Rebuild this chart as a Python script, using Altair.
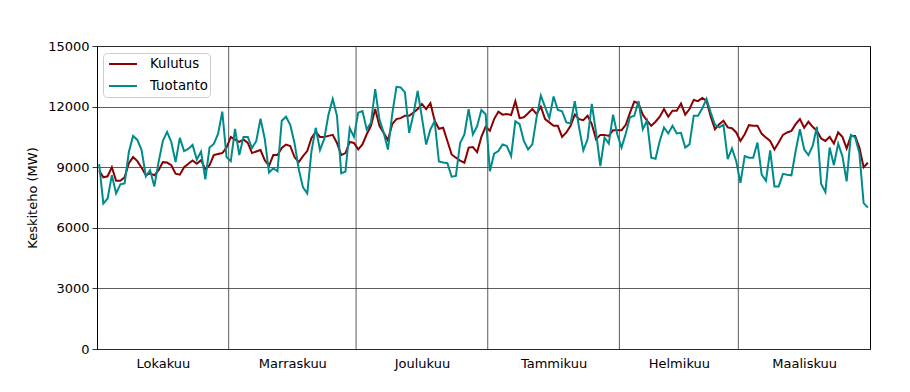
import altair as alt
import pandas as pd

months = ["Lokakuu", "Marraskuu", "Joulukuu", "Tammikuu", "Helmikuu", "Maaliskuu"]
month_days = [31, 30, 31, 31, 28, 31]

kulutus_oct = [8830, 8500, 8550, 9000, 8330, 8330, 8500, 9200, 9500, 9300, 8970, 8600, 8700, 8600, 8850,
               9250, 9230, 9100, 8680, 8630, 9000, 9170, 9330, 9170, 9350, 8900, 9100, 9600, 9650, 9700, 9970]
kulutus_nov = [10500, 10370, 10250, 10370, 10200, 9700, 9780, 9850, 9350, 9070, 9600, 9600, 9950, 10120, 10050,
               9500, 9250, 9550, 9800, 10450, 10750, 10500, 10500, 10550, 10600, 10200, 9600, 9700, 10250, 10200]
kulutus_dec = [9880, 10130, 10630, 11050, 11880, 11050, 10700, 10330, 11130, 11380, 11430, 11550, 11550, 11700,
               11880, 12130, 11880, 12170, 11300, 10900, 10950, 10300, 9630, 9470, 9330, 9220, 9970, 10000, 9750,
               10500, 11000]
kulutus_jan = [10800, 11380, 11750, 11600, 11630, 11580, 12270, 11430, 11470, 11670, 11880, 11630, 12000, 11380,
               11220, 11050, 11050, 10500, 10720, 11050, 11600, 11380, 11330, 11550, 11130, 10380, 10600, 10600,
               10550, 10830, 10830]
kulutus_feb = [10830, 11100, 11700, 12250, 12150, 11600, 11300, 11050, 11250, 11500, 11880, 11500, 11800, 11800,
               12150, 11600, 11880, 12330, 12270, 12430, 12300, 11500, 10880, 11130, 11300, 10970, 10930, 10720]
kulutus_mar = [10300, 10630, 11080, 11050, 11050, 10650, 10470, 10300, 9880, 10220, 10600, 10720, 10800, 11130,
               11380, 10950, 11250, 11000, 10800, 10420, 10300, 10500, 10170, 10720, 10500, 9930, 10550, 10550,
               9970, 9000, 9220]

tuotanto_oct = [9150, 7200, 7450, 8600, 7700, 8150, 8200, 9750, 10550, 10350, 9850, 8550, 8850, 8050, 9250, 10300,
                10750, 10250, 9250, 10450, 9800, 9900, 10100, 9380, 9770, 8400, 9970, 10150, 10650, 11750, 9500]
tuotanto_nov = [9300, 10900, 9600, 10500, 10500, 9950, 10300, 11400, 10400, 8730, 8950, 8800, 11300, 11500, 11100,
                10200, 8900, 8000, 7700, 9800, 10950, 9850, 10400, 11600, 12380, 11550, 8700, 8780, 10930, 10500]
tuotanto_dec = [11700, 11780, 10870, 11200, 12870, 11370, 10700, 9870, 11620, 12980, 12950, 12700, 10700, 11620,
                12780, 11450, 10120, 10870, 11280, 9280, 9230, 9200, 8530, 8570, 10200, 10620, 11870, 10620, 11030,
                11830, 11620]
tuotanto_jan = [8800, 9670, 9800, 10130, 10050, 9550, 11270, 11130, 10300, 9880, 10130, 11470, 12550, 11970, 11430,
                12500, 11830, 11770, 11220, 11170, 12270, 10970, 9830, 10380, 12130, 10720, 9050, 10470, 10170,
                11600, 10630]
tuotanto_feb = [9970, 10670, 11470, 11550, 12270, 10880, 11300, 9470, 9420, 10300, 10970, 10670, 11050, 10670,
                10700, 9970, 10130, 11550, 11550, 11900, 12380, 11700, 11100, 10970, 11100, 9400, 9930, 9300]
tuotanto_mar = [8220, 9550, 9470, 9470, 10220, 8630, 8330, 9830, 8050, 8050, 8670, 8630, 8600, 9800, 10880, 9880,
                9600, 10050, 11000, 8170, 7770, 9970, 9100, 10170, 9550, 8300, 10600, 10470, 9700, 7220, 7000]

y_ticks = [0, 3000, 6000, 9000, 12000, 15000]

kulutus = kulutus_oct + kulutus_nov + kulutus_dec + kulutus_jan + kulutus_feb + kulutus_mar
tuotanto = tuotanto_oct + tuotanto_nov + tuotanto_dec + tuotanto_jan + tuotanto_feb + tuotanto_mar

rows = []
for i, v in enumerate(kulutus):
    rows.append({"x": i + 0.5, "series": "Kulutus", "value": v})
for i, v in enumerate(tuotanto):
    rows.append({"x": i + 0.5, "series": "Tuotanto", "value": v})
df = pd.DataFrame(rows)

bounds = []
mids = []
acc = 0
for d in month_days:
    mids.append(acc + d / 2)
    acc += d
    bounds.append(acc)
total = acc
bounds_df = pd.DataFrame({"b": bounds[:-1]})

# label expression: map month midpoints to month names by range
expr = "''"
for b, name in reversed(list(zip(bounds, months))):
    expr = f"datum.value < {b} ? '{name}' : ({expr})"

xscale = alt.Scale(domain=[0, total], nice=False, zero=False)
xaxis = alt.Axis(values=mids, labelExpr=expr, grid=False, ticks=False, domain=False,
                 labelPadding=8, labelFontSize=13, labelColor="black", title=None,
                 labelOverlap=False)

lines = alt.Chart(df).mark_line(strokeWidth=2).encode(
    x=alt.X("x:Q", scale=xscale, axis=xaxis),
    y=alt.Y("value:Q", scale=alt.Scale(domain=[0, 15000], nice=False),
            axis=alt.Axis(values=y_ticks, format="d", grid=True, gridColor="#333333", gridWidth=0.8,
                          tickSize=5, tickColor="black", tickWidth=0.8, labelPadding=3, domain=False,
                          labelFontSize=13, labelColor="black",
                          title="Keskiteho (MW)", titleFontSize=13, titleFontWeight="normal",
                          titleColor="black", titlePadding=8)),
    color=alt.Color("series:N",
                    scale=alt.Scale(domain=["Kulutus", "Tuotanto"], range=["#8b0000", "#008b8b"]),
                    legend=alt.Legend(orient="none", legendX=6, legendY=7, title=None,
                                      fillColor="rgba(255,255,255,0.85)", strokeColor="#cccccc",
                                      cornerRadius=4, padding=2, clipHeight=18, rowPadding=4,
                                      symbolType="stroke", symbolOffset=3,
                                      symbolStrokeWidth=2, symbolSize=784, labelFontSize=13.3,
                                      labelColor="black", labelOffset=12,
                                      labelExpr="datum.label + '\u00a0\u00a0'")),
)

vgrid = alt.Chart(bounds_df).mark_rule(color="#333333", strokeWidth=0.8).encode(
    x=alt.X("b:Q", scale=xscale, axis=xaxis)
)

chart = alt.layer(vgrid, lines).properties(
    width=773, height=303,
    autosize=alt.AutoSizeParams(type="none"),
    padding={"left": 89, "top": 38, "right": 30, "bottom": 30},
).configure(font="DejaVu Sans").configure_view(stroke="black", strokeWidth=1)

chart.save("out.html", embed_options={"renderer": "svg", "actions": False})
